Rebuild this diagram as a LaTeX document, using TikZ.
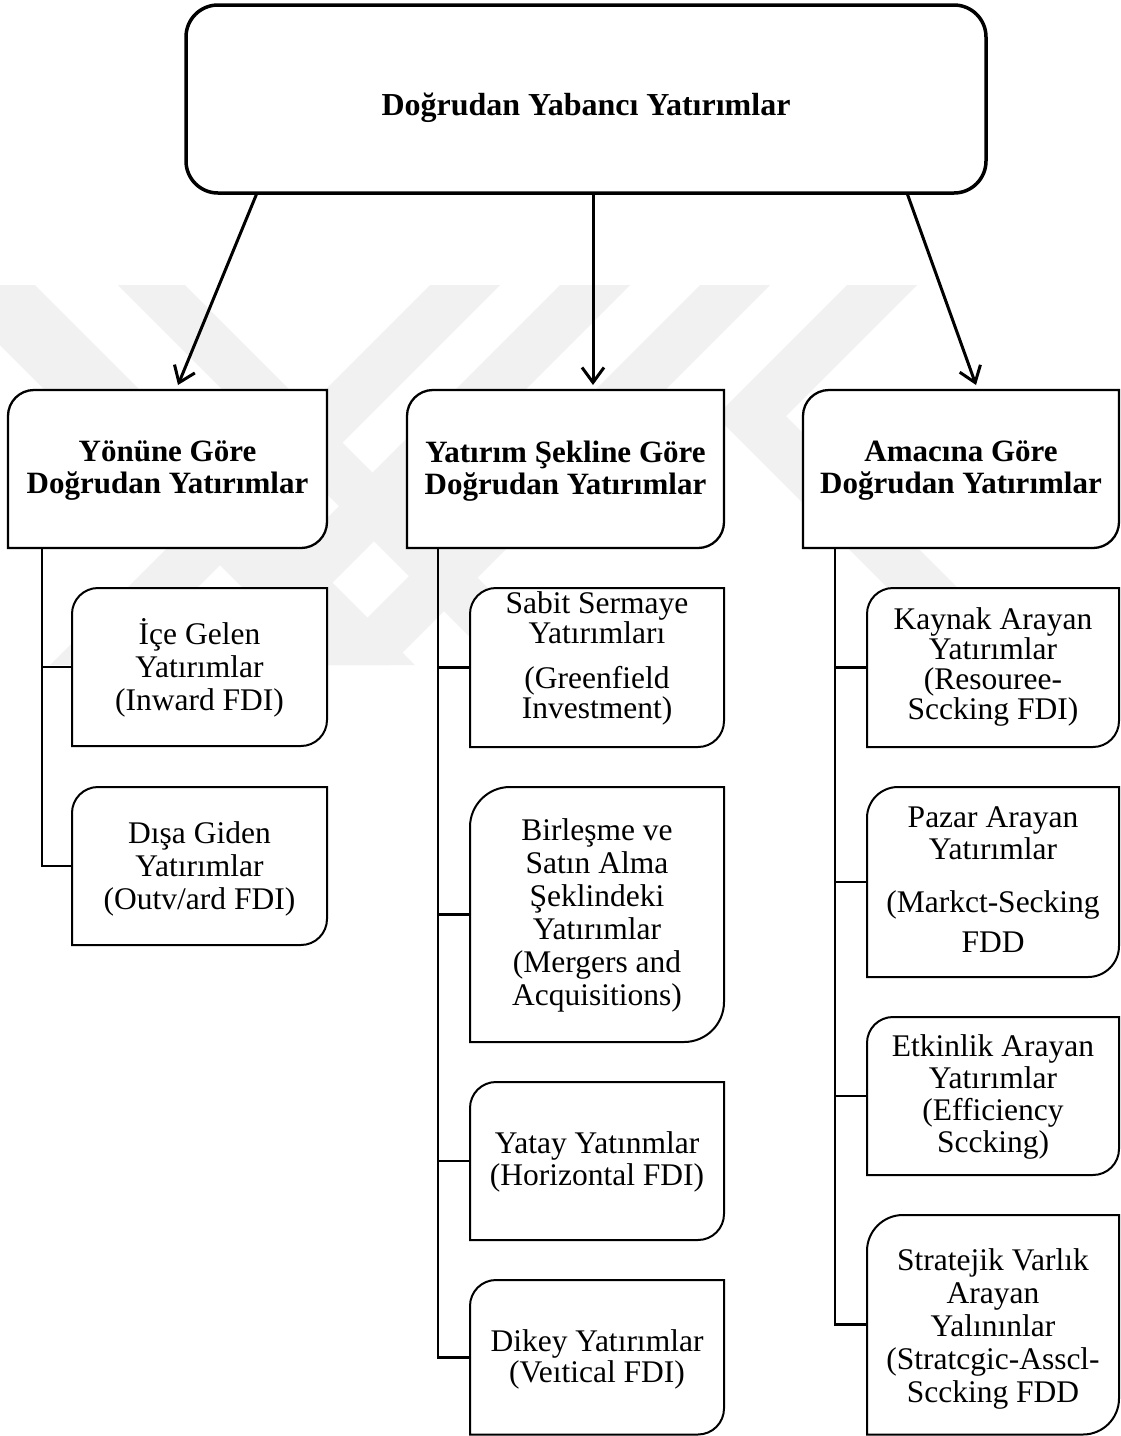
\documentclass[tikz,border=0pt]{standalone}
\usepackage{fontspec}
\setmainfont{Liberation Serif}
\usetikzlibrary{arrows.meta}
\definecolor{wm}{gray}{0.945}
% box with rounded top-left and bottom-right corners
\newcommand{\rdbox}[3]{\draw[#3] (#1.south west) -- ([yshift=-#2]#1.north west) arc[start angle=180,end angle=90,radius=#2] -- (#1.north east) -- ([yshift=#2]#1.south east) arc[start angle=0,end angle=-90,radius=#2] -- cycle;}
\begin{document}
\begin{tikzpicture}[x=1pt,y=1pt,
  shapezero/.style={rectangle, inner sep=0pt, outer sep=0pt},
  topbox/.style={shapezero, draw, line width=3.5pt, rounded corners=32pt, fill=white},
  hline/.style={line width=2.3pt, fill=white},
  kline/.style={line width=2pt, fill=white},
  trunk/.style={line width=2.8pt},
  branch/.style={line width=2.2pt},
  arr/.style={line width=3pt, -{Straight Barb[length=15pt,width=22pt]}},
  hdr/.style={inner sep=0pt, align=center, font=\bfseries\fontsize{31}{32}\selectfont},
  ttl/.style={inner sep=0pt, font=\bfseries\fontsize{32}{34}\selectfont},
  kid/.style={inner sep=0pt, align=center, font=\fontsize{31.5}{#1}\selectfont},
  kid/.default=31,
  wmark/.style={fill=wm, draw=none}
]
\useasboundingbox (0,0) rectangle (1121,-1436);
\fill[white] (0,0) rectangle (1121,-1436);

% faint watermark
\path[wmark] (-60,-285) -- (35,-285) -- (415,-665) -- (320,-665) -- cycle;
\path[wmark] (118,-285) -- (185,-285) -- (565,-665) -- (498,-665) -- cycle;
\path[wmark] (430,-285) -- (500,-285) -- (120,-665) -- (50,-665) -- cycle;
\path[wmark] (560,-285) -- (630,-285) -- (250,-665) -- (180,-665) -- cycle;
\path[wmark] (700,-285) -- (770,-285) -- (390,-665) -- (320,-665) -- cycle;
\path[wmark] (847,-285) -- (917,-285) -- (786,-416) -- (1070,-700) -- (1000,-700) -- (716,-416) -- cycle;

% top box
\node[topbox, minimum width=800pt, minimum height=188pt] (top) at (586,-99) {};
\node[ttl] (topt) at (586,-108) {Doğrudan Yabancı Yatırımlar};

% headers
\node[shapezero, minimum width=319pt, minimum height=158pt] (hL) at (167.5,-469) {};
\rdbox{hL}{26pt}{hline}
\node[hdr] (hLt) at (167.5,-471) {Yönüne Göre\\Doğrudan Yatırımlar};

\node[shapezero, minimum width=317pt, minimum height=158pt] (hM) at (565.5,-469) {};
\rdbox{hM}{26pt}{hline}
\node[hdr] (hMt) at (565.5,-471) {Yatırım Şekline Göre\\Doğrudan Yatırımlar};

\node[shapezero, minimum width=316pt, minimum height=158pt] (hR) at (961,-469) {};
\rdbox{hR}{26pt}{hline}
\node[hdr] (hRt) at (961,-471) {Amacına Göre\\Doğrudan Yatırımlar};

% arrows
\draw[arr] ([xshift=-329pt]top.south) -- ([xshift=10.5pt,yshift=5pt]hL.north);
\draw[arr] ([xshift=7pt]top.south) -- ([xshift=27.5pt,yshift=5pt]hM.north);
\draw[arr] ([xshift=321pt]top.south) -- ([xshift=15pt,yshift=5pt]hR.north);

% left column
\node[shapezero, minimum width=255pt, minimum height=158pt] (ice) at (199.5,-667) {};
\rdbox{ice}{26pt}{kline}
\node[kid=33] (icet) at (199.5,-668) {İçe Gelen\\Yatırımlar\\(Inward FDI)};

\node[shapezero, minimum width=255pt, minimum height=158pt] (disa) at (199.5,-866) {};
\rdbox{disa}{26pt}{kline}
\node[kid=33] (disat) at (199.5,-869) {Dışa Giden\\Yatırımlar\\(Outv/ard FDI)};

% middle column
\node[shapezero, minimum width=254pt, minimum height=159pt] (sabit) at (597,-667.5) {};
\rdbox{sabit}{26pt}{kline}
\node[kid=30] (sabitt) at (597,-658.5) {Sabit Sermaye\\Yatırımları\\[15pt](Greenfield\\Investment)};

\node[shapezero, minimum width=254pt, minimum height=255pt] (birl) at (597,-914.5) {};
\rdbox{birl}{40pt}{kline}
\node[kid=33] (birlt) at (597,-915) {Birleşme ve\\Satın Alma\\Şeklindeki\\Yatırımlar\\(Mergers and\\Acquisitions)};

\node[shapezero, minimum width=254pt, minimum height=158pt] (yatay) at (597,-1161) {};
\rdbox{yatay}{26pt}{kline}
\node[kid=32] (yatayt) at (597,-1161.5) {Yatay Yatınmlar\\(Horizontal FDI)};

\node[shapezero, minimum width=254pt, minimum height=154.5pt] (dikey) at (597,-1357.25) {};
\rdbox{dikey}{26pt}{kline}
\node[kid=31] (dikeyt) at (597,-1359) {Dikey Yatırımlar\\(Veıtical FDI)};

% right column
\node[shapezero, minimum width=252pt, minimum height=159pt] (kaynak) at (993,-667.5) {};
\rdbox{kaynak}{26pt}{kline}
\node[kid=30] (kaynakt) at (993,-667) {Kaynak Arayan\\Yatırımlar\\(Resouree-\\Sccking FDI)};

\node[shapezero, minimum width=252pt, minimum height=190pt] (pazar) at (993,-882) {};
\rdbox{pazar}{31pt}{kline}
\node[kid=32] (pazart) at (993,-880) {Pazar Arayan\\Yatırımlar\\[21pt](Markct-Secking\\[8pt]FDD};

\node[shapezero, minimum width=252pt, minimum height=158pt] (etkin) at (993,-1096) {};
\rdbox{etkin}{26pt}{kline}
\node[kid=32] (etkint) at (993,-1096.5) {Etkinlik Arayan\\Yatırımlar\\(Efficiency\\Sccking)};

\node[shapezero, minimum width=252pt, minimum height=219.5pt] (strat) at (993,-1324.75) {};
\rdbox{strat}{36pt}{kline}
\node[kid=33] (stratt) at (993,-1329) {Stratejik Varlık\\Arayan\\Yalınınlar\\(Stratcgic-Asscl-\\Sccking FDD};

% trunks and branches
\coordinate (tL) at ([xshift=34pt]hL.south west);
\coordinate (tM) at ([xshift=31pt]hM.south west);
\coordinate (tR) at ([xshift=32pt]hR.south west);

\draw[trunk] (tL) |- (disa.west);
\draw[branch] (tL |- ice.west) -- (ice.west);

\draw[trunk] (tM) |- (dikey.west);
\draw[branch] (tM |- sabit.west) -- (sabit.west);
\draw[branch] (tM |- birl.west) -- (birl.west);
\draw[branch] (tM |- yatay.west) -- (yatay.west);

\draw[trunk] (tR) |- (strat.west);
\draw[branch] (tR |- kaynak.west) -- (kaynak.west);
\draw[branch] (tR |- pazar.west) -- (pazar.west);
\draw[branch] (tR |- etkin.west) -- (etkin.west);
\end{tikzpicture}
\end{document}
